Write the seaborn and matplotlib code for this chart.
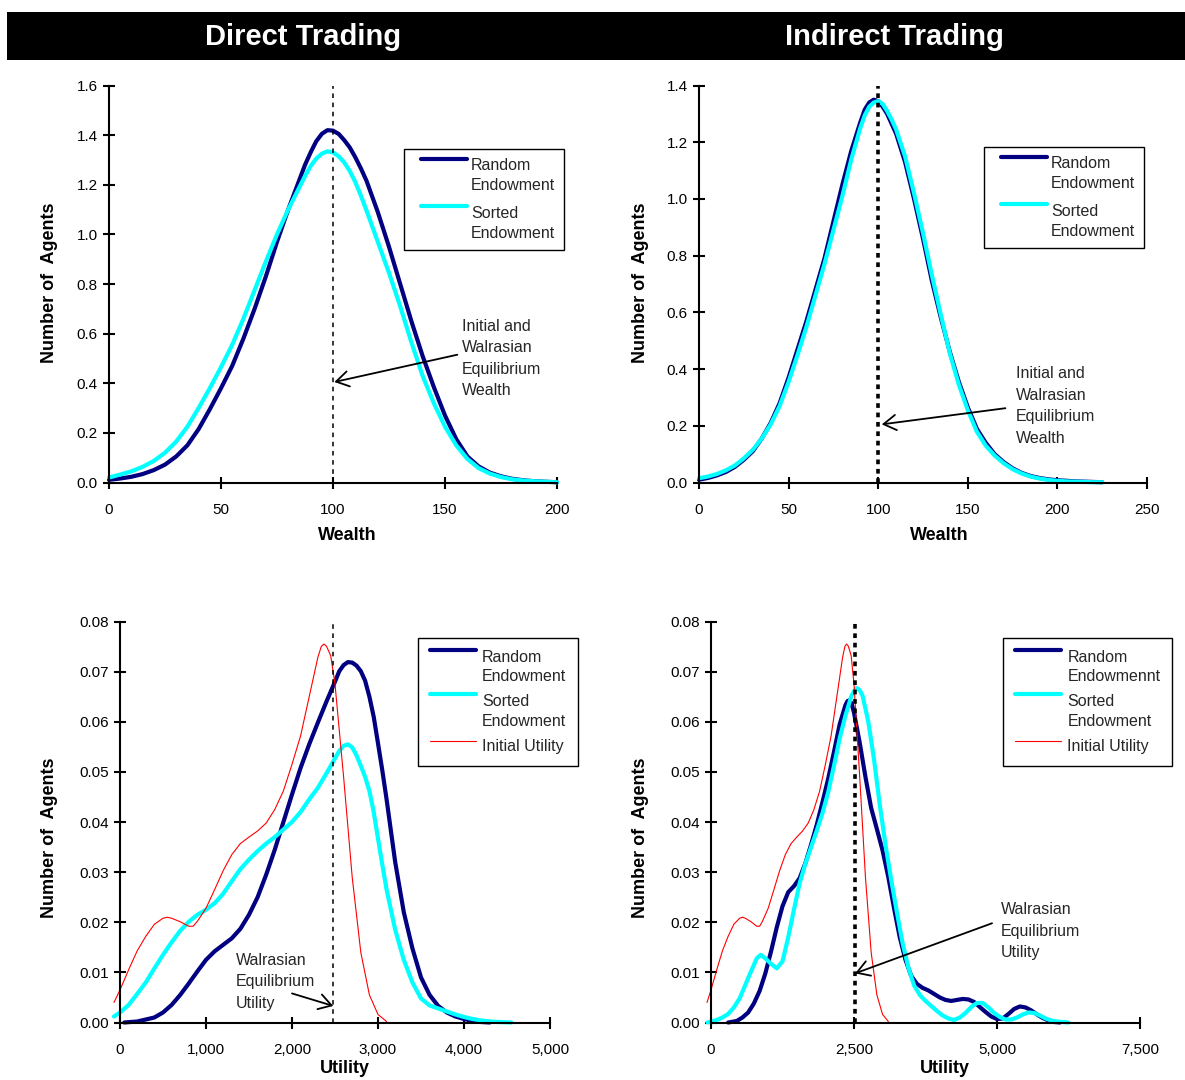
import numpy as np
import pandas as pd
import matplotlib
matplotlib.use("Agg")
import matplotlib.pyplot as plt
import seaborn as sns
from matplotlib.lines import Line2D
from matplotlib.legend_handler import HandlerLine2D
from matplotlib.patches import Rectangle
from matplotlib.ticker import FormatStrFormatter, FuncFormatter, MultipleLocator

# ---------------- data ----------------
panel_titles = ["Direct Trading", "Indirect Trading"]

# Wealth distributions (top row)
direct_wealth_x = [0, 5, 10, 15, 20, 25, 30, 35, 40, 45, 50, 55, 60, 65, 70, 75, 80, 85,
                   87.5, 90, 92.5, 95, 97.5, 100, 102.5, 105, 107.5, 110, 112.5, 115, 120,
                   125, 130, 135, 140, 145, 150, 155, 160, 165, 170, 175, 180, 185, 190, 195, 200]
direct_wealth_random = [0.011, 0.016, 0.023, 0.034, 0.05, 0.072, 0.105, 0.15, 0.215, 0.295,
                        0.38, 0.47, 0.58, 0.70, 0.83, 0.97, 1.10, 1.22,
                        1.28, 1.33, 1.375, 1.405, 1.42, 1.418, 1.405, 1.38, 1.35, 1.31, 1.265,
                        1.215, 1.09, 0.95, 0.80, 0.65, 0.51, 0.385,
                        0.27, 0.175, 0.105, 0.065, 0.04, 0.025, 0.015, 0.009, 0.005, 0.003, 0.001]
direct_wealth_sorted = [0.02, 0.032, 0.045, 0.063, 0.087, 0.12, 0.165, 0.225, 0.30, 0.38,
                        0.465, 0.555, 0.66, 0.775, 0.89, 1.00, 1.10, 1.19,
                        1.235, 1.275, 1.305, 1.325, 1.335, 1.33, 1.315, 1.29, 1.255, 1.21, 1.155,
                        1.095, 0.97, 0.845, 0.71, 0.565, 0.43, 0.32,
                        0.225, 0.15, 0.095, 0.058, 0.036, 0.022, 0.013, 0.008, 0.005, 0.003, 0.001]

indirect_wealth_x = [0, 5, 10, 15, 20, 25, 30, 35, 40, 45, 50, 55, 60, 65, 70, 75, 80, 85,
                     90, 92.5, 95, 97.5, 100, 102.5, 105, 107.5, 110, 115, 120, 125, 130, 135,
                     140, 145, 150, 155, 160, 165, 170, 175, 180, 185, 190, 195, 200, 205, 210,
                     215, 220, 225]
indirect_wealth_random = [0.01, 0.016, 0.025, 0.037, 0.055, 0.08, 0.11, 0.155, 0.21, 0.28,
                          0.37, 0.47, 0.57, 0.68, 0.79, 0.92, 1.05, 1.17,
                          1.27, 1.315, 1.34, 1.35, 1.345, 1.325, 1.30, 1.265, 1.23, 1.13, 1.00,
                          0.86, 0.71, 0.58, 0.46, 0.355, 0.265, 0.19, 0.14, 0.10, 0.072, 0.05,
                          0.034, 0.023, 0.016, 0.011, 0.008, 0.006, 0.004, 0.003, 0.002, 0.001]
indirect_wealth_sorted = [0.015, 0.021, 0.03, 0.043, 0.06, 0.085, 0.115, 0.155, 0.205, 0.27,
                          0.355, 0.45, 0.55, 0.66, 0.77, 0.89, 1.01, 1.14,
                          1.25, 1.295, 1.325, 1.34, 1.345, 1.335, 1.31, 1.28, 1.245, 1.15, 1.02,
                          0.88, 0.73, 0.59, 0.455, 0.345, 0.255, 0.18, 0.13, 0.095, 0.068, 0.047,
                          0.032, 0.021, 0.014, 0.009, 0.006, 0.004, 0.003, 0.002, 0.001, 0.001]

# Utility distributions (bottom row)
initial_utility_x = [-70, 0, 100, 200, 300, 400, 500, 550, 600, 700, 800, 850, 900, 1000,
                     1100, 1200, 1300, 1400, 1500, 1600, 1700, 1800, 1900, 2000, 2100, 2200,
                     2300, 2340, 2370, 2400, 2450, 2500, 2600, 2700, 2800, 2900, 3000, 3100]
initial_utility_y = [0.004, 0.0065, 0.0105, 0.0143, 0.0172, 0.0196, 0.0208, 0.021, 0.0208,
                     0.0201, 0.0192, 0.0192, 0.0202, 0.0228, 0.0265, 0.0303, 0.0335, 0.0357,
                     0.037, 0.0382, 0.0398, 0.0425, 0.0462, 0.0515, 0.0572, 0.065, 0.0728,
                     0.075, 0.0755, 0.0751, 0.0732, 0.0675, 0.049, 0.029, 0.014, 0.0055,
                     0.0016, 0.0002]

direct_util_random_x = [50, 200, 400, 500, 600, 700, 800, 900, 1000, 1100, 1200, 1300, 1400,
                        1500, 1600, 1700, 1800, 1900, 2000, 2100, 2200, 2300, 2400, 2500, 2550,
                        2600, 2650, 2700, 2750, 2800, 2850, 2900, 2950, 3000, 3050, 3100, 3200,
                        3300, 3400, 3500, 3600, 3700, 3800, 3900, 4000, 4100, 4200, 4300]
direct_util_random_y = [0.0, 0.0002, 0.001, 0.002, 0.0035, 0.0055, 0.0078, 0.0102, 0.0125,
                        0.0142, 0.0155, 0.0168, 0.0187, 0.0215, 0.025, 0.0295, 0.0345, 0.04,
                        0.0455, 0.0508, 0.0555, 0.0598, 0.064, 0.068, 0.0701, 0.0713, 0.0719,
                        0.0718, 0.0712, 0.0701, 0.0682, 0.065, 0.061, 0.0557, 0.0503, 0.0445,
                        0.032, 0.022, 0.0148, 0.009, 0.0055, 0.0033, 0.002, 0.0012, 0.0007,
                        0.0003, 0.0001, 0.0]
direct_util_sorted_x = [-70, 0, 100, 200, 300, 400, 500, 600, 700, 800, 900, 1000, 1100, 1200,
                        1300, 1400, 1500, 1600, 1700, 1800, 1900, 2000, 2100, 2200, 2300, 2400,
                        2500, 2550, 2600, 2650, 2700, 2750, 2800, 2850, 2900, 2950, 3000, 3050,
                        3100, 3200, 3300, 3400, 3500, 3600, 3700, 3800, 3900, 4000, 4100, 4200,
                        4300, 4400, 4550]
direct_util_sorted_y = [0.0012, 0.002, 0.0035, 0.0057, 0.008, 0.0108, 0.0135, 0.016, 0.0183,
                        0.0201, 0.0215, 0.0225, 0.0238, 0.0257, 0.0282, 0.0306, 0.0325, 0.0342,
                        0.0357, 0.037, 0.0385, 0.04, 0.042, 0.0445, 0.0468, 0.0497, 0.0527,
                        0.0542, 0.0552, 0.0555, 0.0549, 0.0533, 0.0512, 0.049, 0.0462, 0.042,
                        0.0367, 0.0315, 0.0265, 0.0185, 0.0125, 0.008, 0.0048, 0.0034, 0.0028,
                        0.0022, 0.0016, 0.0011, 0.0007, 0.0004, 0.0002, 0.0001, 0.0]

indirect_util_random_x = [300, 450, 550, 650, 750, 850, 950, 1050, 1150, 1250, 1350, 1450, 1550,
                          1650, 1750, 1850, 1950, 2050, 2150, 2250, 2350, 2385, 2420, 2460, 2500,
                          2600, 2700, 2800, 2900, 3000, 3100, 3200, 3300, 3400, 3500, 3600, 3700,
                          3800, 3900, 4000, 4100, 4200, 4300, 4400, 4500, 4600, 4700, 4800, 4900,
                          5000, 5100, 5200, 5300, 5400, 5500, 5600, 5700, 5800, 5900, 6000, 6100]
indirect_util_random_y = [0.0, 0.0003, 0.001, 0.002, 0.0038, 0.0063, 0.0098, 0.0142, 0.019,
                          0.0232, 0.026, 0.0272, 0.0288, 0.0318, 0.0355, 0.0395, 0.044, 0.0487,
                          0.054, 0.0595, 0.0633, 0.0641, 0.0643, 0.0636, 0.0618, 0.0558, 0.049,
                          0.0428, 0.0386, 0.0343, 0.029, 0.0228, 0.017, 0.0125, 0.0093, 0.0077,
                          0.0069, 0.0064, 0.0057, 0.005, 0.0045, 0.0043, 0.0045, 0.0047, 0.0046,
                          0.0041, 0.0031, 0.0021, 0.0012, 0.0007, 0.0008, 0.0017, 0.0027, 0.0032,
                          0.003, 0.0024, 0.0016, 0.0009, 0.0004, 0.0001, 0.0]
indirect_util_sorted_x = [-60, 100, 200, 300, 400, 500, 600, 700, 800, 870, 950, 1050, 1150,
                          1250, 1350, 1450, 1550, 1650, 1750, 1850, 1950, 2050, 2150, 2250, 2350,
                          2450, 2500, 2550, 2600, 2650, 2750, 2850, 2950, 3050, 3150, 3250, 3350,
                          3450, 3550, 3650, 3750, 3850, 3950, 4050, 4150, 4250, 4350, 4450, 4550,
                          4650, 4750, 4850, 4950, 5050, 5150, 5250, 5350, 5450, 5550, 5650, 5750,
                          5850, 5950, 6050, 6250]
indirect_util_sorted_y = [0.0, 0.0005, 0.001, 0.0017, 0.003, 0.0048, 0.0075, 0.0102, 0.0128,
                          0.0135, 0.0128, 0.0117, 0.0108, 0.0122, 0.017, 0.0225, 0.0278, 0.0317,
                          0.035, 0.0383, 0.0418, 0.046, 0.0512, 0.0567, 0.0612, 0.065, 0.0661,
                          0.0667, 0.0663, 0.0652, 0.06, 0.0525, 0.0435, 0.0355, 0.0285, 0.022,
                          0.0158, 0.011, 0.0074, 0.0055, 0.0043, 0.0033, 0.0023, 0.0014, 0.0008,
                          0.0005, 0.001, 0.0019, 0.0031, 0.0039, 0.0039, 0.003, 0.0019, 0.0011,
                          0.0006, 0.0006, 0.001, 0.0016, 0.002, 0.0019, 0.0014, 0.0008, 0.0004,
                          0.0002, 0.0]

equilibrium_wealth = 100
equilibrium_utility_direct = 2480
equilibrium_utility_indirect = 2510

legend_top = ["Random\nEndowment", "Sorted\nEndowment"]
legend_bl = ["Random\nEndowment", "Sorted\nEndowment", "Initial Utility"]
legend_br = ["Random\nEndowmennt", "Sorted\nEndowment", "Initial Utility"]
note_wealth = "Initial and\nWalrasian\nEquilibrium\nWealth"
note_utility = "Walrasian\nEquilibrium\nUtility"

NAVY = "#000080"
CYAN = "#00FFFF"
RED = "#FF0000"

# ---------------- style ----------------
sns.set_theme(style="white")
plt.rcParams["font.family"] = ["Liberation Sans", "DejaVu Sans"]
plt.rcParams["axes.edgecolor"] = "black"

W, H = 1185, 1080
fig = plt.figure(figsize=(W / 100, H / 100), dpi=100)
fig.patch.set_facecolor("white")

# header bar
fig.add_artist(Rectangle((7 / W, 1 - 60 / H), 1 - 7 / W, 48 / H,
                         transform=fig.transFigure, facecolor="black", edgecolor="none"))
fig.text(303 / W, 1 - 37 / H, panel_titles[0], color="white", fontsize=21,
         fontweight="bold", ha="center", va="center")
fig.text(894 / W, 1 - 37 / H, panel_titles[1], color="white", fontsize=21,
         fontweight="bold", ha="center", va="center")


class TopLineHandler(HandlerLine2D):
    def __init__(self, lead=0.0, **kw):
        super().__init__(**kw)
        self.lead = lead

    def create_artists(self, legend, orig_handle, xdescent, ydescent, width, height,
                       fontsize, trans):
        arts = super().create_artists(legend, orig_handle, xdescent, ydescent, width,
                                      height, fontsize, trans)
        n = orig_handle.get_label().count("\n") + 1
        shift = (n - 1) * 0.86 * fontsize + 0.24 * fontsize
        for a in arts:
            if isinstance(a, Line2D):
                y = np.asarray(a.get_ydata(), float) + shift
                x = np.asarray(a.get_xdata(), float)
                a.set_ydata(y)
                a.set_xdata(np.linspace(x[0] + self.lead, x[-1], len(x)))
        return arts


def style_axes(ax, xlim, ylim, xstep, ystep, yfmt, xfmt=None):
    ax.set_xlim(*xlim)
    ax.set_ylim(*ylim)
    ax.grid(False)
    for s in ["top", "right"]:
        ax.spines[s].set_visible(False)
    for s in ["left", "bottom"]:
        ax.spines[s].set_color("black")
        ax.spines[s].set_linewidth(1.5)
    ax.xaxis.set_major_locator(MultipleLocator(xstep))
    ax.yaxis.set_major_locator(MultipleLocator(ystep))
    ax.yaxis.set_major_formatter(FormatStrFormatter(yfmt))
    if xfmt is not None:
        ax.xaxis.set_major_formatter(xfmt)
    ax.tick_params(axis="both", direction="inout", length=8, width=1.5, colors="black",
                   labelsize=11, labelcolor="black")
    ax.tick_params(axis="y", pad=4)
    ax.tick_params(axis="x", pad=11)
    ax.tick_params(left=True, bottom=True)


def curve(ax, x, y, color, lw, label):
    df = pd.DataFrame({"x": x, "y": y})
    sns.lineplot(data=df, x="x", y="y", ax=ax, color=color, lw=lw, label=label,
                 clip_on=False, errorbar=None, sort=False)


def add_legend(ax, anchor, labelspacing, lead, handlelength, textpad, borderpad):
    leg = ax.legend(loc="upper left", bbox_to_anchor=anchor, borderaxespad=0,
                    fontsize=11.5, frameon=True, fancybox=False, shadow=False,
                    edgecolor="black", framealpha=1, handlelength=handlelength,
                    handletextpad=textpad, labelspacing=labelspacing, borderpad=borderpad,
                    handler_map={Line2D: TopLineHandler(lead=lead)})
    leg.get_frame().set_linewidth(1.0)
    for t in leg.get_texts():
        t.set_linespacing(1.41)
    return leg


def labels(ax, xlabel, xcoord, ycoord):
    ax.set_xlabel(xlabel, fontsize=13, fontweight="bold", color="black")
    ax.set_ylabel("Number of  Agents", fontsize=13, fontweight="bold", color="black")
    ax.xaxis.set_label_coords(*xcoord)
    ax.yaxis.set_label_coords(*ycoord)


arrow_kw = dict(arrowstyle="->,head_length=0.9,head_width=0.55", color="black", lw=1.3,
                shrinkA=0, shrinkB=0, mutation_scale=10)
NOTE_LS = 1.54

TOP_T, TOP_B = 85.5, 482.5
BOT_T, BOT_B = 621.5, 1022.5

# ---------------- top-left ----------------
ax = fig.add_axes([109 / W, 1 - TOP_B / H, 448 / W, (TOP_B - TOP_T) / H])
curve(ax, direct_wealth_x, direct_wealth_random, NAVY, 3, legend_top[0])
curve(ax, direct_wealth_x, direct_wealth_sorted, CYAN, 3, legend_top[1])
ax.plot([equilibrium_wealth, equilibrium_wealth], [0, 1.6], color="black", lw=1.1,
        ls=(0, (3, 3)), clip_on=False)
style_axes(ax, (0, 200), (0, 1.6), 50, 0.2, "%.1f")
add_legend(ax, (0.658, 0.839), 0.8, 6, 3.4, 0.25, 0.55)
ax.text(157.5, 0.50, note_wealth, fontsize=11.5, ha="left", va="center", linespacing=NOTE_LS)
ax.annotate("", xy=(100.6, 0.405), xytext=(155.5, 0.515), arrowprops=arrow_kw)
labels(ax, "Wealth", (0.533, -0.113), (-0.114, 0.5025))

# ---------------- top-right ----------------
ax = fig.add_axes([699 / W, 1 - TOP_B / H, 448 / W, (TOP_B - TOP_T) / H])
curve(ax, indirect_wealth_x, indirect_wealth_random, NAVY, 3, legend_top[0])
curve(ax, indirect_wealth_x, indirect_wealth_sorted, CYAN, 3, legend_top[1])
ax.plot([equilibrium_wealth, equilibrium_wealth], [0, 1.4], color="black", lw=2.6,
        ls=(0, (1.3, 1.3)), clip_on=False)
style_axes(ax, (0, 250), (0, 1.4), 50, 0.2, "%.1f")
add_legend(ax, (0.636, 0.844), 0.8, 6, 3.4, 0.25, 0.55)
ax.text(177, 0.27, note_wealth, fontsize=11.5, ha="left", va="center", linespacing=NOTE_LS)
ax.annotate("", xy=(102, 0.205), xytext=(171, 0.262), arrowprops=arrow_kw)
labels(ax, "Wealth", (0.536, -0.113), (-0.112, 0.5025))

comma = FuncFormatter(lambda v, p: f"{int(round(v)):,}")

# ---------------- bottom-left ----------------
ax = fig.add_axes([120 / W, 1 - BOT_B / H, 430 / W, (BOT_B - BOT_T) / H])
curve(ax, direct_util_random_x, direct_util_random_y, NAVY, 3, legend_bl[0])
curve(ax, direct_util_sorted_x, direct_util_sorted_y, CYAN, 3, legend_bl[1])
curve(ax, initial_utility_x, initial_utility_y, RED, 0.8, legend_bl[2])
ax.plot([equilibrium_utility_direct] * 2, [0, 0.08], color="black", lw=1.1,
        ls=(0, (3, 3)), clip_on=False)
style_axes(ax, (0, 5000), (0, 0.08), 1000, 0.01, "%.2f", comma)
add_legend(ax, (0.693, 0.960), 0.6, 0, 2.9, 0.37, 0.75)
ax.text(1350, 0.0081, note_utility, fontsize=11.5, ha="left", va="center", linespacing=NOTE_LS)
ax.annotate("", xy=(2480, 0.0033), xytext=(2000, 0.0058), arrowprops=arrow_kw)
labels(ax, "Utility", (0.523, -0.094), (-0.144, 0.4615))

# ---------------- bottom-right ----------------
ax = fig.add_axes([711 / W, 1 - BOT_B / H, 429 / W, (BOT_B - BOT_T) / H])
curve(ax, indirect_util_random_x, indirect_util_random_y, NAVY, 3, legend_br[0])
curve(ax, indirect_util_sorted_x, indirect_util_sorted_y, CYAN, 3, legend_br[1])
curve(ax, initial_utility_x, initial_utility_y, RED, 0.8, legend_br[2])
ax.plot([equilibrium_utility_indirect] * 2, [0, 0.08], color="black", lw=2.6,
        ls=(0, (1.3, 1.3)), clip_on=False)
style_axes(ax, (0, 7500), (0, 0.08), 2500, 0.01, "%.2f", comma)
add_legend(ax, (0.681, 0.960), 0.6, 0, 2.9, 0.37, 0.75)
ax.text(5070, 0.0182, note_utility, fontsize=11.5, ha="left", va="center", linespacing=NOTE_LS)
ax.annotate("", xy=(2519, 0.0098), xytext=(4913, 0.0198), arrowprops=arrow_kw)
labels(ax, "Utility", (0.545, -0.094), (-0.1445, 0.4615))

fig.savefig("out.png", dpi=100, facecolor="white")
